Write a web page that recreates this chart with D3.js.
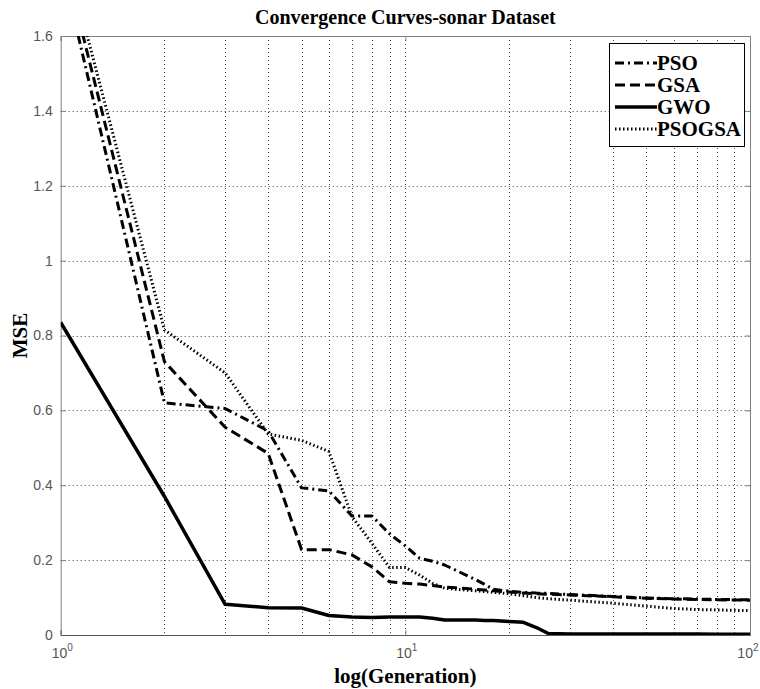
<!DOCTYPE html>
<html>
<head>
<meta charset="utf-8">
<script src="https://cdn.jsdelivr.net/npm/d3@7"></script>
<style>
  html, body { margin: 0; padding: 0; background: #fff; }
  svg { display: block; }
</style>
</head>
<body>
<svg id="chart" width="760" height="689"></svg>
<script>
// ---------------- data ----------------
const generations = [1,2,3,4,5,6,7,8,9,10,11,12,13,14,15,16,17,18,20,22,24,26,30,40,50,60,70,80,100];
const psoMSE    = [1.80,0.62,0.605,0.545,0.393,0.385,0.318,0.318,0.27,0.238,0.205,0.197,0.187,0.173,0.16,0.148,0.135,0.122,0.117,0.114,0.112,0.111,0.108,0.103,0.099,0.097,0.096,0.095,0.094];
const gsaMSE    = [1.84,0.73,0.555,0.485,0.228,0.228,0.214,0.182,0.142,0.138,0.136,0.132,0.128,0.126,0.124,0.122,0.12,0.118,0.115,0.112,0.11,0.109,0.107,0.102,0.098,0.096,0.095,0.094,0.093];
const gwoMSE    = [0.835,0.37,0.082,0.073,0.072,0.052,0.048,0.047,0.048,0.048,0.048,0.045,0.04,0.04,0.04,0.04,0.039,0.039,0.036,0.034,0.02,0.004,0.003,0.003,0.003,0.003,0.003,0.002,0.002];
const psogsaMSE = [1.87,0.815,0.70,0.537,0.52,0.49,0.316,0.245,0.18,0.18,0.16,0.138,0.125,0.122,0.12,0.118,0.116,0.114,0.11,0.105,0.10,0.097,0.093,0.085,0.077,0.071,0.068,0.067,0.065];

const seriesNames = ["PSO","GSA","GWO","PSOGSA"];
const seriesValues = [psoMSE, gsaMSE, gwoMSE, psogsaMSE];
const seriesDash = ["9,4,2,4", "10,5", null, "1.5,2.5"];

const yTicks = [0,0.2,0.4,0.6,0.8,1,1.2,1.4,1.6];
const xMajorTicks = [1,10,100];
const xMinorGrid = [2,3,4,5,6,7,8,9,10,20,30,40,50,60,70,80,90];

const titleText = "Convergence Curves-sonar Dataset";
const xLabelText = "log(Generation)";
const yLabelText = "MSE";

// ---------------- layout ----------------
const L = 60.7, R = 750, T = 36, B = 635;
const svg = d3.select("#chart");

const x = d3.scaleLog().domain([1,100]).range([L,R]);
const y = d3.scaleLinear().domain([0,1.6]).range([B,T]);

const serif = "'Liberation Serif','Times New Roman',serif";
const sans = "'Liberation Sans',Arial,sans-serif";
const axisGray = "#808080";

// clip
svg.append("defs").append("clipPath").attr("id","clip")
  .append("rect").attr("x",L).attr("y",T).attr("width",R-L).attr("height",B-T);

// grid
const grid = svg.append("g").attr("stroke","#444").attr("stroke-width",1).attr("stroke-dasharray","1,3");
grid.selectAll("line.gy").data(yTicks.filter(d => d>0 && d<1.6)).enter().append("line")
  .attr("x1",L).attr("x2",R).attr("y1",d=>Math.round(y(d))+0.5).attr("y2",d=>Math.round(y(d))+0.5);
grid.selectAll("line.gx").data(xMinorGrid).enter().append("line")
  .attr("y1",T).attr("y2",B).attr("x1",d=>Math.round(x(d))+0.5).attr("x2",d=>Math.round(x(d))+0.5);

// axes
const yAxis = d3.axisLeft(y).tickValues(yTicks).tickSize(-5).tickPadding(8)
  .tickFormat(d => String(+d.toFixed(1)));
const gy = svg.append("g").attr("transform",`translate(${L},0)`).call(yAxis);
gy.select(".domain").attr("stroke",axisGray);
gy.selectAll(".tick line").attr("stroke",axisGray);
gy.selectAll(".tick text").attr("font-family",sans).attr("font-size",14).attr("fill","#555");

const yAxisR = d3.axisRight(y).tickValues(yTicks).tickSize(-5).tickFormat("");
const gyr = svg.append("g").attr("transform",`translate(${R},0)`).call(yAxisR);
gyr.select(".domain").attr("stroke",axisGray);
gyr.selectAll(".tick line").attr("stroke",axisGray);

const xAxis = d3.axisBottom(x).tickValues(xMajorTicks).tickSize(-5).tickFormat("");
const gx = svg.append("g").attr("transform",`translate(0,${B})`).call(xAxis);
gx.select(".domain").attr("stroke","#555");
gx.selectAll(".tick line").attr("stroke",axisGray);
gx.selectAll(".tick").append("text")
  .attr("font-family",sans).attr("font-size",14).attr("fill","#555")
  .attr("text-anchor", d => d===100 ? "end" : "middle")
  .attr("y",23).attr("x", d => d===100 ? 8 : 1)
  .each(function(d){
    const t = d3.select(this);
    t.append("tspan").text("10");
    t.append("tspan").attr("font-size",10).attr("dy",-7).text(String(Math.round(Math.log10(d))));
  });

const xAxisT = d3.axisTop(x).tickValues(xMajorTicks).tickSize(-5).tickFormat("");
const gxt = svg.append("g").attr("transform",`translate(0,${T})`).call(xAxisT);
gxt.select(".domain").attr("stroke",axisGray);
gxt.selectAll(".tick line").attr("stroke",axisGray);

// curves
const line = d3.line().x(d=>x(d[0])).y(d=>y(d[1]));
const curves = svg.append("g").attr("clip-path","url(#clip)");
seriesValues.forEach((vals,i) => {
  const pts = generations.map((g,j)=>[g, vals[j]]);
  const p = curves.append("path").datum(pts).attr("d",line)
    .attr("fill","none").attr("stroke","#000")
    .attr("stroke-width", i===2 ? 3.5 : 3)
    .attr("stroke-linejoin","round");
  if (seriesDash[i]) p.attr("stroke-dasharray",seriesDash[i]);
});

// legend
const lg = svg.append("g");
lg.append("rect").attr("x",609.5).attr("y",43.5).attr("width",135).attr("height",103)
  .attr("fill","#fff").attr("stroke","#000").attr("stroke-width",1);
const rowY = [63, 85, 107, 129];
seriesNames.forEach((name,i) => {
  const l = lg.append("line").attr("x1",615).attr("x2",657).attr("y1",rowY[i]).attr("y2",rowY[i])
    .attr("stroke","#000").attr("stroke-width", i===2 ? 3.5 : 3);
  if (seriesDash[i]) l.attr("stroke-dasharray",seriesDash[i]);
  lg.append("text").attr("x",657).attr("y",rowY[i]+7)
    .attr("font-family",serif).attr("font-weight","bold").attr("font-size",21).attr("fill","#000")
    .text(name);
});

// title and labels
svg.append("text").attr("x",(L+R)/2).attr("y",24).attr("text-anchor","middle")
  .attr("font-family",serif).attr("font-weight","bold").attr("font-size",20).text(titleText);
svg.append("text").attr("x",(L+R)/2).attr("y",683).attr("text-anchor","middle")
  .attr("font-family",serif).attr("font-weight","bold").attr("font-size",21).text(xLabelText);
svg.append("text").attr("transform",`translate(27,${(T+B)/2}) rotate(-90)`).attr("text-anchor","middle")
  .attr("font-family",serif).attr("font-weight","bold").attr("font-size",21).text(yLabelText);
</script>
</body>
</html>
